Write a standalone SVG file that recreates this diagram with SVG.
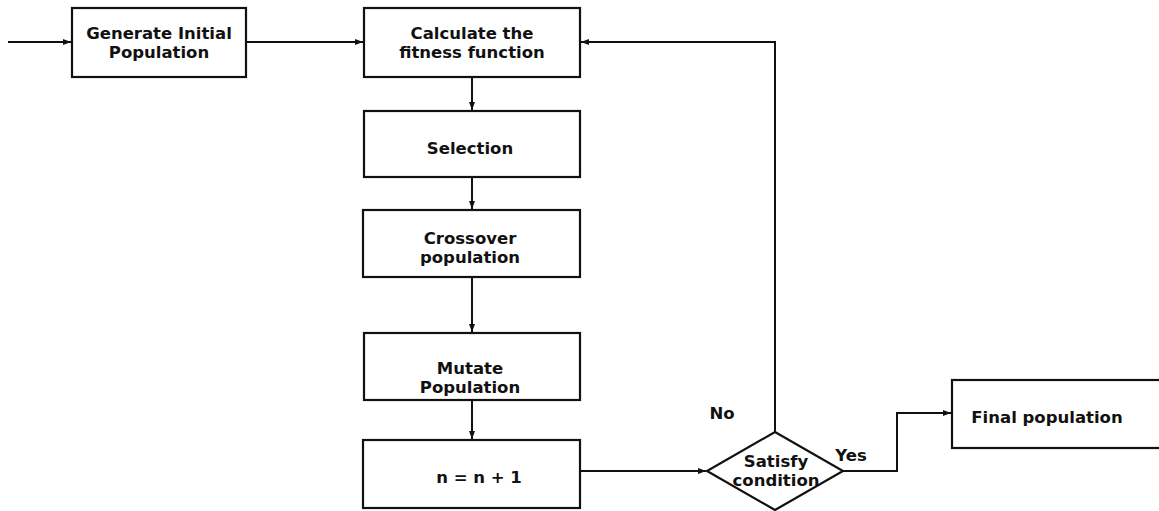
<svg xmlns="http://www.w3.org/2000/svg" width="1159" height="511" viewBox="0 0 1159 511">
<style>
.box{fill:#fff;stroke:#111;stroke-width:2.2}
.t{font-family:"DejaVu Sans",Verdana,sans-serif;font-weight:bold;font-size:16.5px;fill:#111;text-anchor:middle}
.c{fill:none;stroke:#111;stroke-width:2}
</style>
<defs>
<marker id="ah" markerWidth="8" markerHeight="6" refX="8" refY="3" orient="auto" markerUnits="userSpaceOnUse">
<path d="M0,0 L8,3 L0,6 Z" fill="#111"/>
</marker>
</defs>
<rect width="1159" height="511" fill="#fff"/>
<g id="connectors">
<line class="c" x1="8" y1="42" x2="71" y2="42" marker-end="url(#ah)"/>
<line class="c" x1="246" y1="42" x2="363" y2="42" marker-end="url(#ah)"/>
<line class="c" x1="472" y1="77" x2="472" y2="110" marker-end="url(#ah)"/>
<line class="c" x1="472" y1="177" x2="472" y2="209" marker-end="url(#ah)"/>
<line class="c" x1="472" y1="277" x2="472" y2="332" marker-end="url(#ah)"/>
<line class="c" x1="472" y1="400" x2="472" y2="439" marker-end="url(#ah)"/>
<line class="c" x1="580" y1="471" x2="706" y2="471" marker-end="url(#ah)"/>
<polyline class="c" points="775,432 775,42 581,42" marker-end="url(#ah)"/>
<polyline class="c" points="843,471 897,471 897,413 951,413" marker-end="url(#ah)"/>
<text class="t" x="722" y="419">No</text>
<text class="t" x="851" y="461">Yes</text>
</g>
<g id="generate">
<rect class="box" x="72" y="8" width="174" height="69"/>
<text class="t" x="159" y="39">Generate Initial</text>
<text class="t" x="159" y="58">Population</text>
</g>
<g id="fitness">
<rect class="box" x="364" y="8" width="216" height="69"/>
<text class="t" x="472" y="39">Calculate the</text>
<text class="t" x="472" y="58">fitness function</text>
</g>
<g id="selection">
<rect class="box" x="364" y="111" width="216" height="66"/>
<text class="t" x="470" y="154">Selection</text>
</g>
<g id="crossover">
<rect class="box" x="363" y="210" width="217" height="67"/>
<text class="t" x="470" y="244">Crossover</text>
<text class="t" x="470" y="263">population</text>
</g>
<g id="mutate">
<rect class="box" x="364" y="333" width="216" height="67"/>
<text class="t" x="470" y="374">Mutate</text>
<text class="t" x="470" y="393">Population</text>
</g>
<g id="increment">
<rect class="box" x="363" y="440" width="217" height="68"/>
<text class="t" x="479" y="483" xml:space="preserve">n = n + 1</text>
</g>
<g id="decision">
<polygon class="box" points="775,432 843,471 775,510 707,471"/>
<text class="t" x="776" y="467">Satisfy</text>
<text class="t" x="776" y="486">condition</text>
</g>
<g id="final">
<rect class="box" x="952" y="380" width="215" height="68"/>
<text class="t" x="1047" y="423">Final population</text>
</g>
</svg>
